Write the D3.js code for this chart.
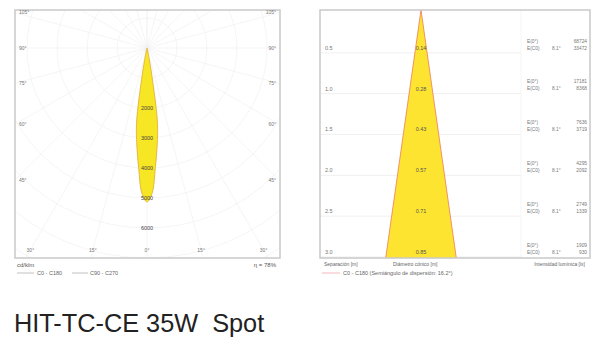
<!DOCTYPE html>
<html><head><meta charset="utf-8">
<script src="https://cdn.jsdelivr.net/npm/d3@7"></script>
<style>body{margin:0;background:#fff}svg{display:block}text{font-family:"Liberation Sans",Arial,sans-serif}</style>
</head><body>
<script>
// ---- data ----
const lobeAngles = [0, 2, 4, 6, 8, 10, 12, 14, 16];          // degrees from nadir
const lobeIntensity = [5130, 4850, 4000, 3250, 2500, 950, 260, 60, 0]; // cd/klm
const intensityTicks = [2000, 3000, 4000, 5000, 6000];
const gridIntensities = [1000, 2000, 3000, 4000, 5000, 6000, 7000, 8000];
const sideAngleLabels = ["105°", "90°", "75°", "60°", "45°"];
const sideAngles = [105, 90, 75, 60, 45];
const bottomAngleLabels = ["30°", "15°", "0°", "15°", "30°"];
const bottomAngles = [-30, -15, 0, 15, 30];

const distances = [0.5, 1.0, 1.5, 2.0, 2.5, 3.0];            // m
const diameters = ["0.14", "0.28", "0.43", "0.57", "0.71", "0.85"];
const e0 = [68724, 17181, 7636, 4295, 2749, 1909];            // lx
const eC0 = [33472, 8368, 3719, 2092, 1339, 930];             // lx
const halfAngle = 8.1;

const W = 600, H = 348;
const svg = d3.select("body").append("svg").attr("width", W).attr("height", H);

// ---------- LEFT: polar diagram ----------
const L = {x0: 15, y0: 10, x1: 280, y1: 258};
const cx = 147, cy = 48;
const r = d3.scaleLinear().domain([0, 1000]).range([0, 30]);
const lp = svg.append("g");
lp.append("clipPath").attr("id", "clipL").append("rect")
  .attr("x", L.x0).attr("y", L.y0).attr("width", L.x1 - L.x0).attr("height", L.y1 - L.y0);
const grid = lp.append("g").attr("clip-path", "url(#clipL)");
grid.selectAll("circle").data(gridIntensities).join("circle")
  .attr("cx", cx).attr("cy", cy).attr("r", d => r(d))
  .attr("fill", "none").attr("stroke", "#f0f0f0").attr("stroke-width", 0.7);
const radialAngles = d3.range(-180, 181, 15);
grid.selectAll("line").data(radialAngles).join("line")
  .attr("x1", cx).attr("y1", cy)
  .attr("x2", a => cx + 600 * Math.sin(a * Math.PI / 180))
  .attr("y2", a => cy + 600 * Math.cos(a * Math.PI / 180))
  .attr("stroke", "#f0f0f0").attr("stroke-width", 0.7);

// lobe
const pts = [];
for (let i = lobeAngles.length - 1; i >= 0; i--) pts.push([-lobeAngles[i], lobeIntensity[i]]);
for (let i = 1; i < lobeAngles.length; i++) pts.push([lobeAngles[i], lobeIntensity[i]]);
const lobeLine = d3.line()
  .x(d => cx + r(d[1]) * Math.sin(d[0] * Math.PI / 180))
  .y(d => cy + r(d[1]) * Math.cos(d[0] * Math.PI / 180))
  .curve(d3.curveCatmullRomClosed);
lp.append("path").attr("d", lobeLine(pts))
  .attr("fill", "#f6e624").attr("stroke", "#e0a83a").attr("stroke-width", 0.8);

lp.selectAll("text.it").data(intensityTicks).join("text").attr("class", "it")
  .attr("x", cx).attr("y", d => cy + r(d)).attr("dy", "0.35em")
  .attr("text-anchor", "middle").attr("font-size", 5.5).attr("fill", "#444").text(d => d);

lp.append("rect").attr("x", L.x0).attr("y", L.y0).attr("width", L.x1 - L.x0).attr("height", L.y1 - L.y0)
  .attr("fill", "none").attr("stroke", "#c9c9c9").attr("stroke-width", 1.5);

// side angle labels
const sideY = a => cy - (cx - L.x0) * Math.tan((a - 90) * Math.PI / 180);
lp.selectAll("text.sl").data(sideAngles).join("text").attr("class", "sl")
  .attr("x", 19).attr("y", a => sideY(a)).attr("dy", "0.35em")
  .attr("font-size", 5).attr("fill", "#777").text((a, i) => sideAngleLabels[i]);
lp.selectAll("text.sr").data(sideAngles).join("text").attr("class", "sr")
  .attr("x", 276).attr("y", a => sideY(a)).attr("dy", "0.35em").attr("text-anchor", "end")
  .attr("font-size", 5).attr("fill", "#777").text((a, i) => sideAngleLabels[i]);
lp.selectAll("text.bl").data(bottomAngles).join("text").attr("class", "bl")
  .attr("x", a => {
    const x = cx + (250 - cy) * Math.tan(a * Math.PI / 180);
    return Math.max(25, Math.min(269, x));
  })
  .attr("y", 250).attr("dy", "0.35em").attr("text-anchor", "middle")
  .attr("font-size", 5).attr("fill", "#777").text((a, i) => bottomAngleLabels[i]);

lp.append("text").attr("x", 17).attr("y", 267).attr("font-size", 6).attr("fill", "#555").text("cd/klm");
lp.append("text").attr("x", 276).attr("y", 267).attr("text-anchor", "end").attr("font-size", 6).attr("fill", "#555").text("η = 78%");
lp.append("line").attr("x1", 17).attr("x2", 34).attr("y1", 273).attr("y2", 273).attr("stroke", "#999").attr("stroke-width", 0.6);
lp.append("text").attr("x", 37).attr("y", 275).attr("font-size", 5.5).attr("fill", "#666").text("C0 - C180");
lp.append("line").attr("x1", 72).attr("x2", 88).attr("y1", 273).attr("y2", 273).attr("stroke", "#999").attr("stroke-width", 0.6);
lp.append("text").attr("x", 90).attr("y", 275).attr("font-size", 5.5).attr("fill", "#666").text("C90 - C270");

// ---------- RIGHT: cone diagram ----------
const R = {x0: 320, y0: 10, x1: 590, y1: 258};
const apexX = 421;
const y = d3.scaleLinear().domain([0, 3]).range([10, 255]);
const xm = d3.scaleLinear().domain([0, 1]).range([0, 81.7]);
const rp = svg.append("g");
rp.selectAll("line.row").data(distances).join("line").attr("class", "row")
  .attr("x1", R.x0).attr("x2", 521).attr("y1", d => y(d) + 2).attr("y2", d => y(d) + 2)
  .attr("stroke", "#e9e9e9").attr("stroke-width", 0.7);
rp.append("line").attr("x1", 521).attr("x2", 521).attr("y1", R.y0).attr("y2", R.y1)
  .attr("stroke", "#f2f2f2").attr("stroke-width", 0.7);
const tanA = Math.tan(halfAngle * Math.PI / 180);
const depthB = y.invert(R.y1);
const cone = [[apexX, y(0)], [apexX - xm(depthB * tanA), R.y1], [apexX + xm(depthB * tanA), R.y1]];
rp.append("path").attr("d", d3.line()(cone) + "Z").attr("fill", "#fde431").attr("stroke", "none");
rp.append("line").attr("x1", cone[0][0]).attr("y1", cone[0][1]).attr("x2", cone[1][0]).attr("y2", cone[1][1])
  .attr("stroke", "#ee7b5a").attr("stroke-width", 0.8);
rp.append("line").attr("x1", cone[0][0]).attr("y1", cone[0][1]).attr("x2", cone[2][0]).attr("y2", cone[2][1])
  .attr("stroke", "#ee7b5a").attr("stroke-width", 0.8);
rp.append("rect").attr("x", R.x0).attr("y", R.y0).attr("width", R.x1 - R.x0).attr("height", R.y1 - R.y0)
  .attr("fill", "none").attr("stroke", "#c9c9c9").attr("stroke-width", 1.5);

rp.selectAll("text.d").data(distances).join("text").attr("class", "d")
  .attr("x", 325).attr("y", d => y(d) - 3).attr("dy", "0.35em")
  .attr("font-size", 5.5).attr("fill", "#777").text(d => d.toFixed(1));
rp.selectAll("text.dm").data(distances).join("text").attr("class", "dm")
  .attr("x", apexX).attr("y", d => y(d) - 3).attr("dy", "0.35em").attr("text-anchor", "middle")
  .attr("font-size", 5.5).attr("fill", "#555").text((d, i) => diameters[i]);
const eg = rp.selectAll("g.e").data(distances).join("g").attr("class", "e");
eg.append("text").attr("x", 527).attr("y", d => y(d) - 10).attr("dy", "0.35em")
  .attr("font-size", 4.8).attr("fill", "#777").text("E(0°)");
eg.append("text").attr("x", 527).attr("y", d => y(d) - 3).attr("dy", "0.35em")
  .attr("font-size", 4.8).attr("fill", "#777").text("E(C0)");
eg.append("text").attr("x", 552).attr("y", d => y(d) - 3).attr("dy", "0.35em")
  .attr("font-size", 4.8).attr("fill", "#777").text(halfAngle + "°");
eg.append("text").attr("x", 587).attr("y", d => y(d) - 10).attr("dy", "0.35em").attr("text-anchor", "end")
  .attr("font-size", 4.8).attr("fill", "#777").text((d, i) => e0[i]);
eg.append("text").attr("x", 587).attr("y", d => y(d) - 3).attr("dy", "0.35em").attr("text-anchor", "end")
  .attr("font-size", 4.8).attr("fill", "#777").text((d, i) => eC0[i]);

rp.append("text").attr("x", 324).attr("y", 266).attr("font-size", 5).attr("fill", "#666").text("Separación [m]");
rp.append("text").attr("x", 393).attr("y", 266).attr("font-size", 5).attr("fill", "#666").text("Diámetro cónico [m]");
rp.append("text").attr("x", 585).attr("y", 266).attr("text-anchor", "end").attr("font-size", 5).attr("fill", "#666").text("Intensidad lumínica [lx]");
rp.append("line").attr("x1", 322).attr("x2", 340).attr("y1", 273).attr("y2", 273).attr("stroke", "#f29aa0").attr("stroke-width", 0.7);
rp.append("text").attr("x", 343).attr("y", 275).attr("font-size", 5.5).attr("fill", "#666")
  .text("C0 - C180 (Semiángulo de dispersión: 16.2°)");

// ---------- title ----------
svg.append("text").attr("x", 14).attr("y", 332).attr("font-size", 25.3).attr("fill", "#222")
  .text("HIT-TC-CE 35W\u00a0\u00a0Spot");
</script>
</body></html>
